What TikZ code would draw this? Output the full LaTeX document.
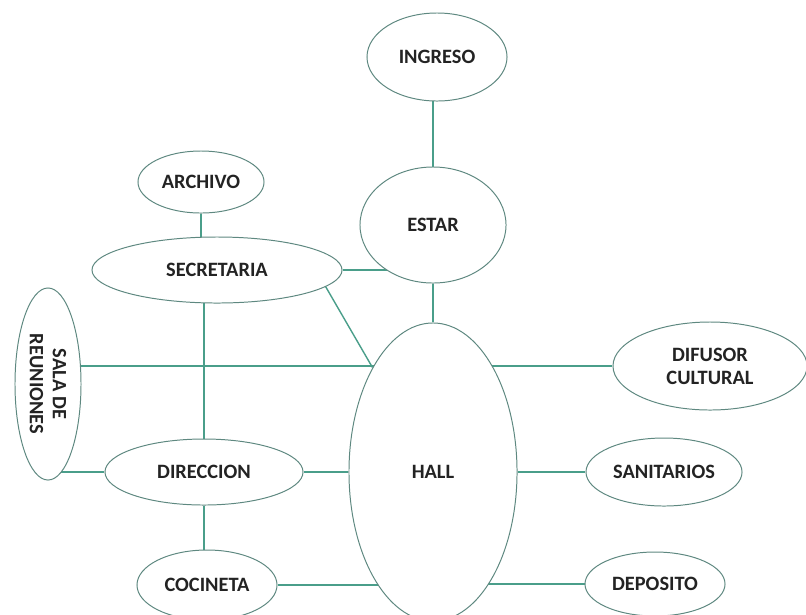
\documentclass[tikz,border=0pt]{standalone}
\usepackage{fontspec}
\setmainfont{Carlito}
\usetikzlibrary{shapes.geometric, calc, backgrounds}
\definecolor{linkgreen}{HTML}{4A9E8A}
\definecolor{rimgray}{HTML}{5E8880}
\definecolor{textgray}{HTML}{232323}

\begin{document}
\begin{tikzpicture}[x=0.025cm, y=-0.025cm,
  room/.style={draw=rimgray, line width=0.7pt, fill=white, ellipse, inner sep=0pt,
    font=\fontsize{14.5}{16.5}\selectfont\bfseries, text=textgray, align=center},
  link/.style={draw=linkgreen, line width=1pt}]
  \useasboundingbox (0,0) rectangle (806,614);

  % Rooms
  \node[room, minimum width=3.5cm, minimum height=2.2cm] (ingreso) at (437,57) {INGRESO};
  \node[room, minimum width=3.65cm, minimum height=2.9cm] (estar) at (433,225) {ESTAR};
  \node[room, minimum width=3.15cm, minimum height=1.55cm] (archivo) at (201,182) {ARCHIVO};
  \node[room, minimum width=6.25cm, minimum height=1.65cm] (secretaria) at (217,270) {SECRETARIA};
  \node[room, rotate=-90, minimum width=4.8cm, minimum height=1.65cm] (sala) at (48,384) {SALA DE\\REUNIONES};
  \node[room, minimum width=4.2cm, minimum height=7.45cm] (hall) at (433,472) {HALL};
  \node[room, minimum width=4.85cm, minimum height=2.2cm] (difusor) at (710,366) {DIFUSOR\\CULTURAL};
  \node[room, minimum width=4.95cm, minimum height=1.65cm] (direccion) at (204,472) {DIRECCION};
  \node[room, minimum width=3.9cm, minimum height=1.7cm] (sanitarios) at (664,472) {SANITARIOS};
  \node[room, minimum width=3.5cm, minimum height=1.75cm] (cocineta) at (207,585) {COCINETA};
  \node[room, minimum width=3.5cm, minimum height=1.6cm] (deposito) at (655,584) {DEPOSITO};

  % Links, kept behind the rooms
  \begin{scope}[on background layer]
    \draw[link] (estar |- ingreso) -- (estar);
    \draw[link] (archivo) -- (archivo |- secretaria);
    \draw[link] (secretaria) -- (estar |- secretaria);
    \draw[link] (estar) -- (hall);
    \draw[link] ($(secretaria)+(99,0)$) -- (hall);
    \draw[link] (direccion |- secretaria) -- (direccion);
    \draw[link] (sala |- difusor) -- (hall |- difusor);
    \draw[link] (hall |- difusor) -- (difusor);
    \draw[link] (sala |- direccion) -- (direccion);
    \draw[link] (direccion) -- (hall);
    \draw[link] (hall) -- (sanitarios);
    \draw[link] (direccion) -- (direccion |- cocineta);
    \draw[link] (cocineta) -- (hall |- cocineta);
    \draw[link] (hall |- deposito) -- (deposito);
  \end{scope}
\end{tikzpicture}
\end{document}
